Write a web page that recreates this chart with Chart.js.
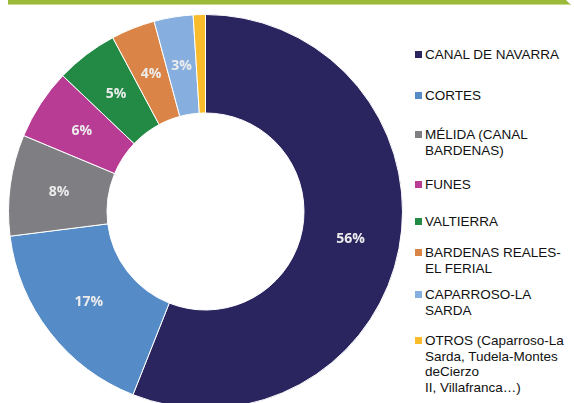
<!DOCTYPE html>
<html>
<head>
<meta charset="utf-8">
<script src="https://cdn.jsdelivr.net/npm/chart.js@4.4.0/dist/chart.umd.min.js"></script>
<style>
    html, body { margin: 0; padding: 0; background: #fff; overflow: hidden; }
    body { width: 574px; height: 403px; position: relative; font-family: "Liberation Sans", Arial, sans-serif; }
    .top-bar {
        position: absolute; left: 8px; top: 0; width: 563px; height: 4px;
        background: #9bbb38; border-bottom: 1px solid #c6da8c;
        clip-path: polygon(0 0, calc(100% - 5px) 0, 100% 100%, 0 100%);
    }
    #chart-wrap { position: absolute; left: 8px; top: 14px; width: 395px; height: 395px; }
    .legend { position: absolute; left: 415px; top: 0; width: 159px; }
    .legend-item { position: absolute; left: 0; font-size: 13.5px; line-height: 15.5px; color: #111; white-space: nowrap; }
    .legend-item .box { position: absolute; left: 0; top: 3.5px; width: 7px; height: 7px; }
    .legend-item .text { margin-left: 10px; }
</style>
</head>
<body>
<div class="top-bar"></div>
<div id="chart-wrap"><canvas id="donut-chart" width="395" height="395"></canvas></div>
<div class="legend" id="legend"></div>

<script>
// Data
const categories = [
    ['CANAL DE NAVARRA'],
    ['CORTES'],
    ['MÉLIDA (CANAL', 'BARDENAS)'],
    ['FUNES'],
    ['VALTIERRA'],
    ['BARDENAS REALES-', 'EL FERIAL'],
    ['CAPARROSO-LA', 'SARDA'],
    ['OTROS  (Caparroso-La', 'Sarda, Tudela-Montes', 'deCierzo', 'II, Villafranca…)']
];
const shares = [56, 17, 8.3, 5.8, 5.1, 3.6, 3.2, 1.0];
const sliceColors = ['#2a245f', '#558bc7', '#7f7f83', '#b83b94', '#228a45', '#da8547', '#86aede', '#fbbc2c'];

// Legend layout (top of each item, px)
const legendTop = [47, 88, 127, 177, 214, 245, 287, 333];

// Build legend
const legendEl = document.getElementById('legend');
categories.forEach((lines, i) => {
    const item = document.createElement('div');
    item.className = 'legend-item';
    item.style.top = legendTop[i] + 'px';
    item.innerHTML = '<span class="box" style="background:' + sliceColors[i] + '"></span>' +
        '<div class="text">' + lines.join('<br>') + '</div>';
    legendEl.appendChild(item);
});

// Percent labels inside the slices
const sliceLabels = {
    id: 'sliceLabels',
    afterDatasetsDraw(chart) {
        const ctx = chart.ctx;
        const meta = chart.getDatasetMeta(0);
        const total = shares.reduce((a, b) => a + b, 0);
        ctx.save();
        ctx.font = 'bold 14px "Open Sans"';
        ctx.fillStyle = '#ececec';
        ctx.textAlign = 'center';
        ctx.textBaseline = 'middle';
        meta.data.forEach((arc, i) => {
            if (shares[i] < 2) return;
            const pos = arc.tooltipPosition();
            ctx.fillText(Math.round(shares[i] / total * 100) + '%', pos.x, pos.y);
        });
        ctx.restore();
    }
};

new Chart(document.getElementById('donut-chart'), {
    type: 'doughnut',
    data: {
        labels: categories.map(l => l.join(' ')),
        datasets: [{
            data: shares,
            backgroundColor: sliceColors,
            borderColor: '#ffffff',
            borderWidth: 1
        }]
    },
    options: {
        responsive: false,
        animation: false,
        cutout: '50%',
        layout: { padding: 0 },
        plugins: {
            legend: { display: false },
            tooltip: { enabled: false }
        }
    },
    plugins: [sliceLabels]
});
</script>
</body>
</html>
